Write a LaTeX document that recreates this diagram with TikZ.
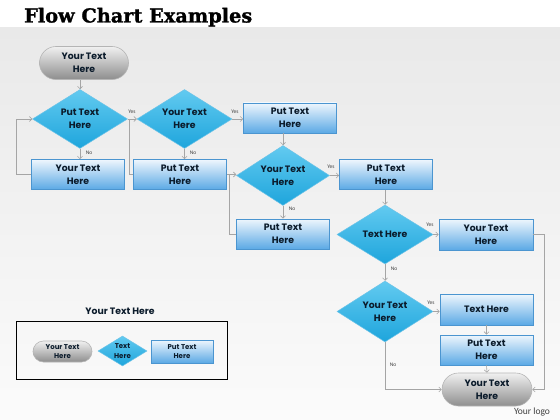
\documentclass[tikz,border=0pt]{standalone}
\usepackage{fontspec}
\usetikzlibrary{shapes.geometric,shapes.misc,arrows.meta}
\newfontfamily\popf{Poppins}[BoldFont={Poppins Bold}]
\newfontfamily\serf{DejaVu Serif}[BoldFeatures={FakeBold=1.2}]
\newfontfamily\calf{Carlito}
\definecolor{boxtop}{HTML}{EEF6FD}
\definecolor{boxmid}{HTML}{A9D4F3}
\definecolor{boxbot}{HTML}{5BA9E5}
\definecolor{boxline}{HTML}{4B95D0}
\definecolor{dectop}{HTML}{62CAF0}
\definecolor{decbot}{HTML}{1EA5DC}
\definecolor{decline}{HTML}{6CC3E8}
\definecolor{termtop}{HTML}{F0F0F0}
\definecolor{termmid}{HTML}{CDCDCD}
\definecolor{termbot}{HTML}{8E8E8E}
\definecolor{termline}{HTML}{B5B5B5}
\definecolor{txt}{HTML}{0B1B2B}
\definecolor{linegray}{HTML}{A5A5A5}
\definecolor{labgray}{HTML}{404040}
\definecolor{bgtop}{HTML}{E9E9E9}
\definecolor{bgbot}{HTML}{FBFBFB}
\newcommand{\ntxt}{\popf\bfseries\fontsize{9.3}{12.6}\selectfont}
\newcommand{\stxt}{\popf\bfseries\fontsize{7}{9.5}\selectfont}
\newcommand{\lbl}{\calf\fontsize{5.5}{6}\selectfont}
\tikzset{
  box/.style={draw=boxline, line width=0.8pt, top color=boxtop, middle color=boxmid, bottom color=boxbot,
    minimum width=93pt, minimum height=30pt, inner sep=1pt, align=center, font=\ntxt, text=txt},
  dec/.style={diamond, draw=decline, line width=0.5pt, top color=dectop, bottom color=decbot,
    minimum width=95pt, minimum height=59pt, inner sep=0pt, aspect=1.6, align=center, font=\ntxt, text=txt},
  term/.style={rounded rectangle, draw=termline, line width=0.6pt, top color=termtop, middle color=termmid, bottom color=termbot,
    minimum width=91pt, minimum height=33pt, inner sep=1pt, align=center, font=\ntxt, text=txt},
  conn/.style={draw=linegray, line width=0.6pt, -{Straight Barb[length=2.5pt,width=5pt]}},
  plain/.style={draw=linegray, line width=0.6pt},
  lab/.style={font=\lbl, text=labgray, inner sep=0.5pt},
}
\begin{document}
\begin{tikzpicture}[x=1pt,y=-1pt]
\useasboundingbox (0,0) rectangle (560,420);
\fill[white] (0,0) rectangle (560,420);
\fill[top color=bgtop, bottom color=bgbot] (0,28) rectangle (560,420);
\node[anchor=base west, inner sep=0pt, font=\serf\bfseries\fontsize{19.3}{22}\selectfont] (title) at (24,22.5) {Flow Chart Examples};

% main flow
\node[term] (start) at (84,63) {Your Text\\Here};
\node[dec] (d1) at (80,119) {Put Text\\Here};
\node[dec] (d2) at (184.5,119) {Your Text\\Here};
\node[box] (b0) at (290,118) {Put Text\\Here};
\node[box] (b1) at (78,174.5) {Your Text\\Here};
\node[box] (b2) at (180,174.5) {Put Text\\Here};
\node[dec, minimum width=93pt, minimum height=60pt] (d3) at (283,175.5) {Your Text\\Here};
\node[box] (b3) at (386,174.5) {Put Text\\Here};
\node[box] (b4) at (283,234) {Put Text\\Here};
\node[dec, minimum width=96pt] (d4) at (385,234.5) {Text Here};
\node[box, minimum width=94pt, minimum height=31pt] (b5) at (486,234.5) {Your Text\\Here};
\node[dec, minimum width=96pt, minimum height=61pt] (d5) at (385,311.5) {Your Text\\Here};
\node[box, minimum width=93pt, minimum height=31pt] (b6) at (486.5,309.5) {Text Here};
\node[box] (b7) at (486.5,350) {Put Text\\Here};
\node[term, minimum width=92pt] (end) at (487,389.5) {Your Text\\Here};

% connectors
\draw[conn] (d1.north |- start.south) -- (d1.north);
\draw[conn] (d1.east) -- (d2.west);
\node[lab] (y1) at (132,112) {Yes};
\draw[conn] (d2.east) -- (d2.east -| b0.west);
\node[lab] (y2) at (235,112) {Yes};
\draw[conn] (d1.south) -- (d1.south |- b1.north);
\node[lab] (n1) at (89,153) {No};
\draw[conn] (d2.south) -- (d2.south |- b2.north);
\node[lab] (n2) at (193,153) {No};
\draw[conn] (b1.west) -- ++(-15,0) |- (d1.west);
\draw[plain] (b2.west) -- ++(-4,0) |- (d1.east);
\draw[conn] (d3.north |- b0.south) -- (d3.north);
\draw[conn] (b2.east) -- (b2.east -| d3.west);
\draw[plain] (b4.west) -- ++(-7,0) |- (b2.east -| d3.west);
\draw[conn] (d3.east) -- (d3.east -| b3.west);
\node[lab] (y3) at (331,167) {Yes};
\draw[conn] (d3.south) -- (d3.south |- b4.north);
\node[lab] (n3) at (292,209) {No};
\draw[conn] (d4.north |- b3.south) -- (d4.north);
\draw[conn] (d4.east) -- (d4.east -| b5.west);
\node[lab] (y4) at (430,225) {Yes};
\draw[conn] (d4.south) -- (d5.north);
\node[lab] (n4) at (394,269) {No};
\draw[conn] (d5.east) -- (d5.east -| b6.west);
\node[lab] (y5) at (431,303) {Yes};
\draw[conn] (b6.south) -- (b7.north);
\draw[conn] (b7.south) -- (end.north);
\draw[conn] (d5.south) |- (end.west);
\node[lab] (n5) at (393,365) {No};
\draw[conn] (b5.east) -- ++(11,0) |- (end.east);

\node[font=\calf\fontsize{9.5}{11}\selectfont, text=labgray, inner sep=0pt] (logo) at (532,412) {Your logo};

% legend
\node[font=\ntxt, text=txt, inner sep=0pt] (legtitle) at (120,311) {Your Text Here};
\draw[black, line width=0.9pt] (16,321) rectangle (227,379);
\node[term, minimum width=61pt, minimum height=21pt, font=\stxt] (lterm) at (62.5,351.5) {Your Text\\Here};
\node[dec, minimum width=49pt, minimum height=30pt, font=\stxt] (ldec) at (122.5,351) {Text\\Here};
\node[box, minimum width=62pt, minimum height=23pt, font=\stxt] (lbox) at (182,351.5) {Put Text\\Here};
\end{tikzpicture}
\end{document}
